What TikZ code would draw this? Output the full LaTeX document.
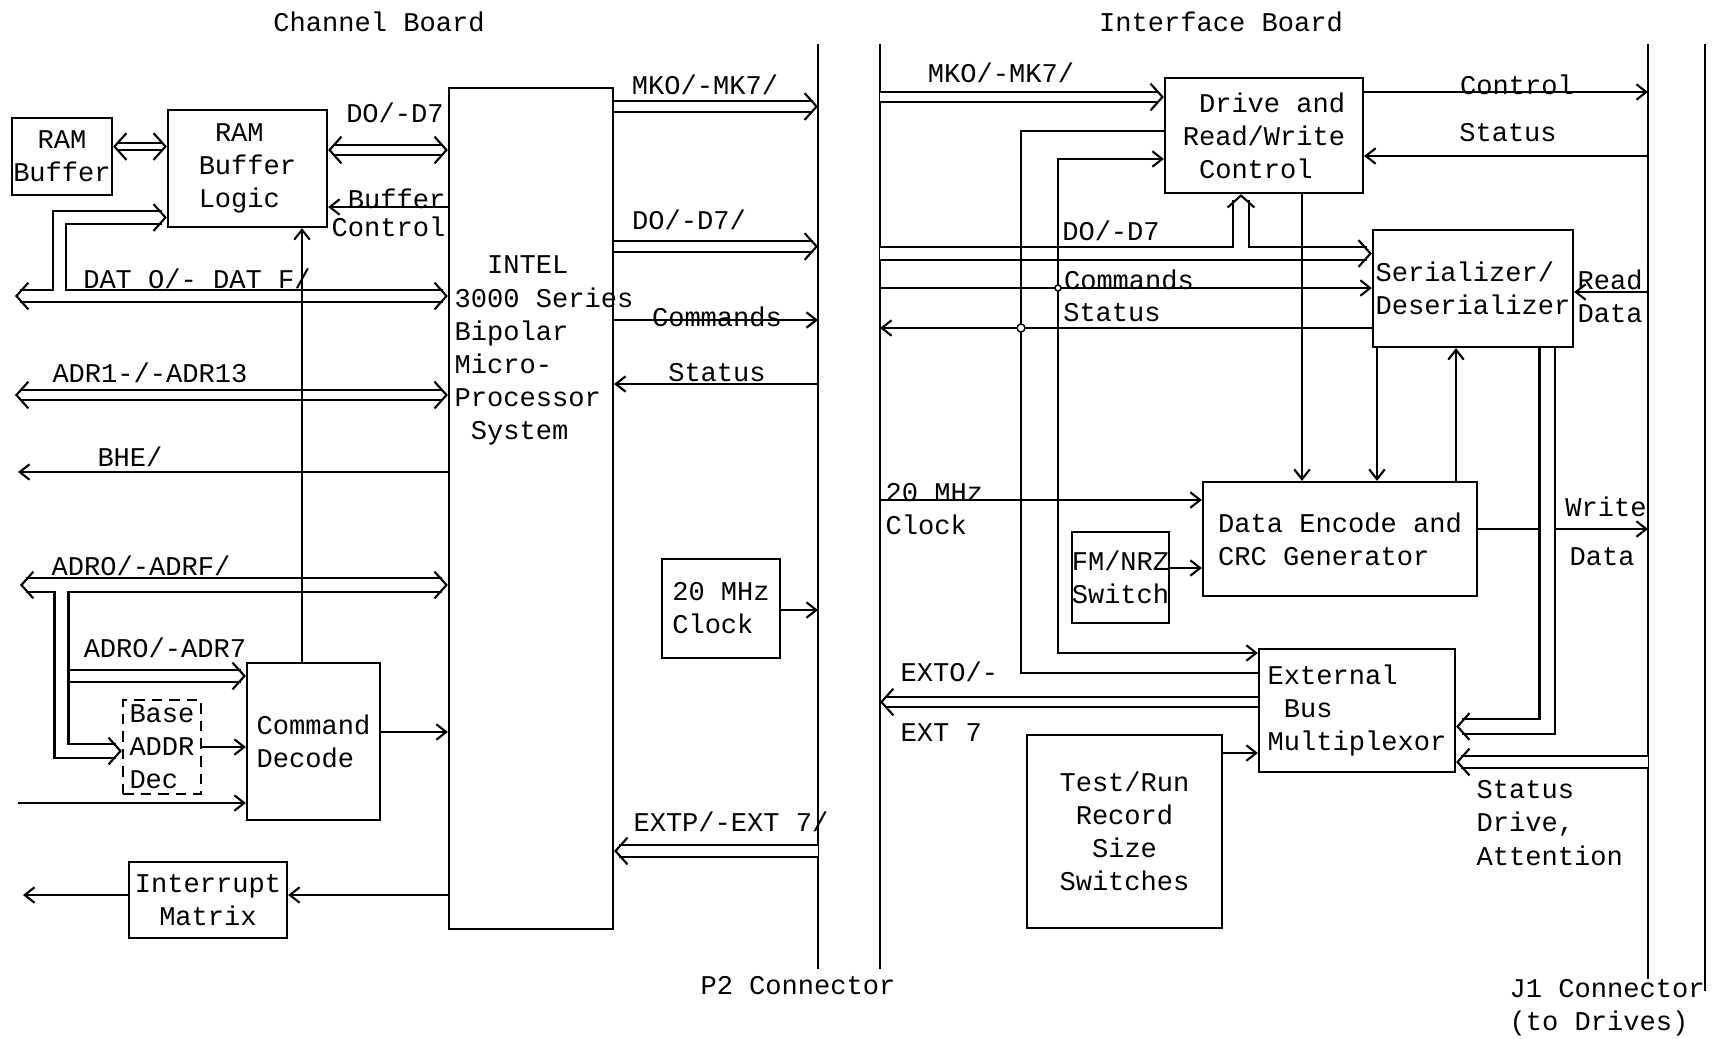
\documentclass[tikz,border=0pt]{standalone}
\usepackage{fontspec}
\setmainfont{Liberation Mono}
\usetikzlibrary{arrows.meta}

\tikzset{
  every node/.style={font=\fontsize{7.7pt}{9.4pt}\selectfont, inner sep=0pt},
  box/.style={draw, line width=0.6pt, align=left},
  lbl/.style={align=left},
  conn/.style={line width=0.6pt},
  arr/.style={conn, -{Straight Barb[length=2.8pt, width=4.4pt]}},
  bus/.style={conn, double, double distance=#1},
  bus/.default=2.6pt,
  bushd/.style={white, line width=0.1pt, arrows={{Straight Barb[color=black, line width=0.6pt, length=3.4pt, width=7.6pt]}-}},
  pin/.style={line width=0.8pt},
}

\begin{document}
\begin{tikzpicture}[x=0.01cm, y=-0.01cm]
  \useasboundingbox (0,0) rectangle (1717,1038);

  % board titles
  \node[lbl] (chTitle) at (379,22) {Channel Board};
  \node[lbl] (ifTitle) at (1221,22) {Interface Board};

  % P2 and J1 connectors
  \coordinate (p2lTop) at (818,44);  \coordinate (p2lBot) at (818,969);
  \coordinate (p2rTop) at (880,44);  \coordinate (p2rBot) at (880,969);
  \coordinate (j1lTop) at (1648,44); \coordinate (j1lBot) at (1648,979);
  \coordinate (j1rTop) at (1705,44); \coordinate (j1rBot) at (1705,991);
  \draw[pin] (p2lTop) -- (p2lBot);
  \draw[pin] (p2rTop) -- (p2rBot);
  \draw[pin] (j1lTop) -- (j1lBot);
  \draw[pin] (j1rTop) -- (j1rBot);
  \node[lbl] (lP2) at (798,986) {P2 Connector};
  \node[lbl, anchor=west] (lJ1) at (1509,1008) {J1 Connector\\(to Drives)};

  % channel board blocks
  \node[box, align=center, minimum width=1.00cm, minimum height=0.77cm] (ramBuf) at (62,156.5) {RAM\\Buffer};
  \node[box, minimum width=1.59cm, minimum height=1.17cm] (ramLogic) at (247.5,168.5) {\hphantom{B}RAM\\Buffer\\Logic};
  \node[box, minimum width=1.64cm, minimum height=8.41cm] (intel) at (531,508.5) {};
  \node[lbl] (intelTxt) at (544,350.5) {\hphantom{30}INTEL\\3000 Series\\Bipolar\\Micro-\\Processor\\\hphantom{3}System};
  \node[box, densely dashed, minimum width=0.78cm, minimum height=0.94cm] (baseDec) at (162,747) {Base\\ADDR\\Dec};
  \node[box, minimum width=1.33cm, minimum height=1.57cm] (cmd) at (313.5,741.5) {Command\\Decode};
  \node[box, align=center, minimum width=1.58cm, minimum height=0.76cm] (intr) at (208,900) {Interrupt\\Matrix};
  \node[box, minimum width=1.18cm, minimum height=0.99cm] (clk) at (721,608.5) {20 MHz\\Clock};

  % interface board blocks
  \node[box, minimum width=1.98cm, minimum height=1.15cm] (drive) at (1264,135.5) {\hphantom{R}Drive and\\Read/Write\\\hphantom{R}Control};
  \node[box, minimum width=2.00cm, minimum height=1.17cm] (serdes) at (1473,288.5) {Serializer/\\Deserializer};
  \node[box, minimum width=2.74cm, minimum height=1.14cm] (enc) at (1340,539) {Data Encode and\\CRC Generator};
  \node[box, minimum width=0.93cm, minimum height=0.91cm] (fmnrz) at (1120.5,577.5) {FM/NRZ\\Switch};
  \node[box, minimum width=1.96cm, minimum height=1.23cm] (extbus) at (1357,710.5) {External\\\hphantom{B}Bus\\Multiplexor};
  \node[box, align=center, minimum width=1.95cm, minimum height=1.93cm] (testrun) at (1124.5,831.5) {Test/Run\\Record\\Size\\Switches};

  % RAM buffer <-> logic
  \draw[bus=1.4pt, shorten <=1pt, shorten >=1pt] (ramBuf.east|-0,146.5) -- (ramLogic.west|-0,146.5);
  \draw[bushd] (ramBuf.east|-0,146.5) -- +(15,0);
  \draw[bushd] (ramLogic.west|-0,146.5) -- +(-15,0);

  % D0-D7 and buffer control
  \draw[bus=2.25pt, shorten <=1.3pt, shorten >=1.3pt] (ramLogic.east|-0,150) -- (intel.west|-0,150);
  \draw[bushd] (ramLogic.east|-0,150) -- +(15,0);
  \draw[bushd] (intel.west|-0,150) -- +(-15,0);
  \node[lbl] (lDOa) at (395,113) {DO/-D7};
  \draw[arr] (intel.west|-0,207) -- (ramLogic.east|-0,207);
  \node[lbl, anchor=east] (lBuf) at (446,199) {Buffer};
  \node[lbl, anchor=east] (lCtl) at (446,227) {Control};

  % DAT bus
  \coordinate (datL) at (15,296);
  \draw[bus=2.8pt, shorten <=1.4pt, shorten >=1.4pt] (datL) -- (intel.west|-0,296);
  \draw[bushd] (datL) -- +(15,0);
  \draw[bushd] (intel.west|-0,296) -- +(-15,0);
  \coordinate (datJ) at (59.5,291.05);
  \draw[bus=3.1pt, shorten >=1.5pt] (datJ) |- (ramLogic.west|-0,217.5);
  \draw[bushd] (ramLogic.west|-0,217.5) -- +(-15,0);
  \node[lbl] (lDAT) at (197,279) {DAT O/- DAT F/};

  % ADR1 bus and BHE
  \coordinate (adr1L) at (15,395);
  \draw[bus=2.25pt, shorten <=1.3pt, shorten >=1.3pt] (adr1L) -- (intel.west|-0,395);
  \draw[bushd] (adr1L) -- +(15,0);
  \draw[bushd] (intel.west|-0,395) -- +(-15,0);
  \node[lbl] (lADR1) at (150,373) {ADR1-/-ADR13};
  \coordinate (bheL) at (18,472);
  \draw[arr] (intel.west|-0,472) -- (bheL);
  \node[lbl] (lBHE) at (130,457) {BHE/};

  % ADRO bus and its branches
  \coordinate (adr0L) at (20,585);
  \draw[bus=3.4pt, shorten <=1.6pt, shorten >=1.6pt] (adr0L) -- (intel.west|-0,585);
  \draw[bushd] (adr0L) -- +(15,0);
  \draw[bushd] (intel.west|-0,585) -- +(-15,0);
  \node[lbl] (lADR0) at (141,566) {ADRO/-ADRF/};
  \coordinate (adr7J) at (68.5,676);
  \draw[bus=2.8pt, shorten >=1.4pt] (adr7J) -- (cmd.west|-0,676);
  \draw[bushd] (cmd.west|-0,676) -- +(-15,0);
  \node[lbl] (lADR7) at (165,648) {ADRO/-ADR7};
  \coordinate (adr0J) at (61.5,591);
  \draw[bus=3.4pt, shorten >=1.6pt] (adr0J) |- (baseDec.west|-0,751);
  \draw[bushd] (baseDec.west|-0,751) -- +(-15,0);

  % command decode and interrupts
  \draw[arr] (baseDec.east|-0,747) -- (cmd.west|-0,747);
  \coordinate (cmdInL) at (18,803);
  \draw[arr] (cmdInL) -- (cmd.west|-0,803);
  \draw[arr] (cmd.east|-0,732) -- (intel.west|-0,732);
  \draw[arr] (cmd.north-|302,0) -- (ramLogic.south-|302,0);
  \draw[arr] (intel.west|-0,895) -- (intr.east|-0,895);
  \coordinate (intrL) at (23,895);
  \draw[arr] (intr.west|-0,895) -- (intrL);

  % processor to P2
  \draw[bus=2.5pt, shorten >=1.4pt] (intel.east|-0,106.5) -- (p2lTop|-0,106.5);
  \draw[bushd] (p2lTop|-0,106.5) -- +(-15,0);
  \node[lbl] (lMKa) at (705,85) {MKO/-MK7/};
  \draw[bus=2.5pt, shorten >=1.4pt] (intel.east|-0,246.5) -- (p2lTop|-0,246.5);
  \draw[bushd] (p2lTop|-0,246.5) -- +(-15,0);
  \node[lbl] (lDOb) at (689,220) {DO/-D7/};
  \draw[arr] (intel.east|-0,320) -- (p2lTop|-0,320);
  \node[lbl] (lCmda) at (717,317) {Commands};
  \draw[arr] (p2lTop|-0,384) -- (intel.east|-0,384);
  \node[lbl] (lStsa) at (717,373) {Status};
  \draw[arr] (clk.east|-0,610) -- (p2lTop|-0,610);
  \draw[bus=2.8pt, shorten >=1.4pt] (p2lTop|-0,851) -- (intel.east|-0,851);
  \draw[bushd] (intel.east|-0,851) -- +(15,0);
  \node[lbl] (lEXTP) at (731,822) {EXTP/-EXT 7/};

  % interface: drive control
  \draw[bus=2.25pt, shorten >=1.3pt] (p2rTop|-0,97) -- (drive.west|-0,97);
  \draw[bushd] (drive.west|-0,97) -- +(-15,0);
  \node[lbl] (lMKb) at (1001,73) {MKO/-MK7/};
  \draw[arr] (drive.east|-0,92) -- (j1lTop|-0,92);
  \node[lbl] (lCtrl) at (1517,85) {Control};
  \draw[arr] (j1lTop|-0,156) -- (drive.east|-0,156);
  \node[lbl] (lStsb) at (1508,133) {Status};

  % interface: data bus
  \draw[bus=3.1pt, shorten >=1.5pt] (p2rTop|-0,253.5) -- (serdes.west|-0,253.5);
  \draw[bushd] (serdes.west|-0,253.5) -- +(-15,0);
  \node[lbl] (lDOc) at (1111,231) {DO/-D7};
  \coordinate (doJ) at (1241,248.05);
  \draw[bus=3.95pt, shorten >=1.8pt] (doJ) -- (drive.south-|1241,0);
  \draw[bushd] (drive.south-|1241,0) -- +(0,15);
  \draw[arr] (p2rTop|-0,288) -- (serdes.west|-0,288);
  \node[lbl] (lCmdb) at (1129,280) {Commands};
  \draw[arr] (serdes.west|-0,328) -- (p2rTop|-0,328);
  \node[lbl] (lStsc) at (1112,313) {Status};

  % taps to drive control and external bus
  \coordinate (cmdJ) at (1058,288);
  \coordinate (stsJ) at (1021,328);
  \draw[conn] (drive.west|-0,131) -| (stsJ) |- (extbus.west|-0,673);
  \draw[arr] (cmdJ) |- (drive.west|-0,159);
  \draw[arr] (cmdJ) |- (extbus.west|-0,653);
  \draw[line width=0.4pt, fill=white] (cmdJ) circle[radius=3];
  \draw[line width=0.4pt, fill=white] (stsJ) circle[radius=4];

  % encoder, serializer, drives
  \draw[arr] (drive.south-|1302,0) -- (enc.north-|1302,0);
  \draw[arr] (serdes.south-|1377,0) -- (enc.north-|1377,0);
  \draw[arr] (enc.north-|1456,0) -- (serdes.south-|1456,0);
  \draw[arr] (enc.east|-0,529) -- (j1lTop|-0,529);
  \node[lbl] (lWrite) at (1606,507) {Write};
  \node[lbl] (lWdata) at (1602,557) {Data};
  \draw[bus=3.7pt, shorten >=1.7pt] (serdes.south-|1547,0) |- (extbus.east|-0,726.5);
  \draw[bushd] (extbus.east|-0,726.5) -- +(15,0);
  \draw[arr] (j1lTop|-0,292) -- (serdes.east|-0,292);
  \node[lbl, anchor=west] (lRead) at (1577,296.5) {Read\\Data};
  \draw[bus=2.8pt, shorten >=1.4pt] (j1lTop|-0,762) -- (extbus.east|-0,762);
  \draw[bushd] (extbus.east|-0,762) -- +(15,0);
  \node[lbl, anchor=west] (lStsD) at (1476,823) {Status\\Drive,\\Attention};

  % external bus, switches, clock
  \draw[bus=2.25pt, shorten >=1.3pt] (extbus.west|-0,702) -- (p2rTop|-0,702);
  \draw[bushd] (p2rTop|-0,702) -- +(15,0);
  \node[lbl, anchor=west] (lEXT0) at (900,672) {EXTO/-};
  \node[lbl, anchor=west] (lEXT7) at (900,733) {EXT 7};
  \draw[arr] (testrun.east|-0,753) -- (extbus.west|-0,753);
  \draw[arr] (fmnrz.east|-0,568) -- (enc.west|-0,568);
  \draw[arr] (p2rTop|-0,500) -- (enc.west|-0,500);
  \node[lbl, anchor=west] (l20) at (885,509) {20 MHz\\Clock};
\end{tikzpicture}
\end{document}
